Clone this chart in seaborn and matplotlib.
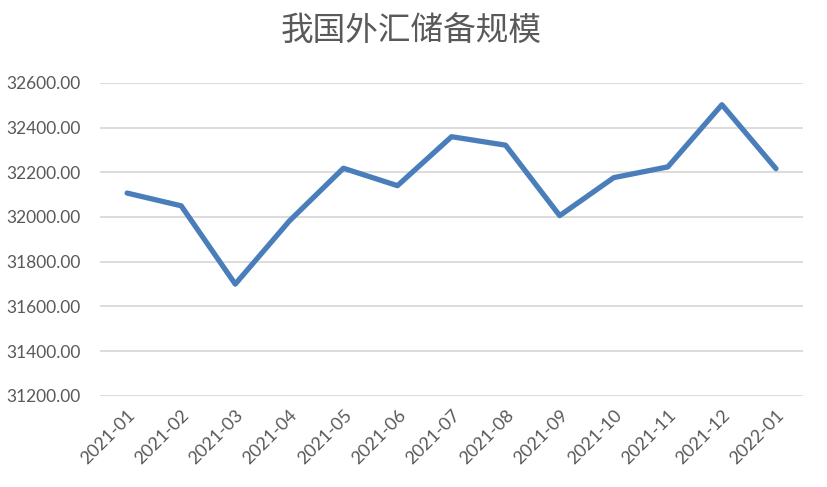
import matplotlib
matplotlib.use("Agg")
import matplotlib.pyplot as plt
import seaborn as sns
import pandas as pd

months = ["2021-01", "2021-02", "2021-03", "2021-04", "2021-05", "2021-06", "2021-07",
          "2021-08", "2021-09", "2021-10", "2021-11", "2021-12", "2022-01"]
reserves = [32107, 32050, 31700, 31982, 32218, 32140, 32359,
            32321, 32006, 32176, 32224, 32502, 32216]
yticks = [31200, 31400, 31600, 31800, 32000, 32200, 32400, 32600]
title = "我国外汇储备规模"

sns.set_theme(style="white")
plt.rcParams['font.family'] = ['Lato', 'Noto Sans CJK SC', 'DejaVu Sans']

df = pd.DataFrame({"month": months, "reserves": reserves, "idx": range(len(months))})

fig = plt.figure(figsize=(8.27, 4.87), dpi=100)
ax = fig.add_axes([0.121, 0.187, 0.850, 0.643])
sns.lineplot(data=df, x="idx", y="reserves", ax=ax, color="#4A7EBB", linewidth=3.8)

ax.set_xlim(-0.5, len(months) - 0.5)
ax.set_ylim(31200, 32600)
ax.set_yticks(yticks)
ax.set_yticklabels([f"{v:.2f}" for v in yticks])
ax.yaxis.grid(True, color="#D9D9D9", linewidth=1.3)
ax.set_axisbelow(True)
ax.set_xticks(range(len(months)))
ax.set_xticklabels(months, rotation=45, ha="right", rotation_mode="anchor")
for s in ax.spines.values():
    s.set_visible(False)
ax.tick_params(axis="y", labelsize=12.5, colors="#595959", length=0, pad=14)
ax.tick_params(axis="x", labelsize=13, colors="#595959", length=0, pad=8)
ax.set_xlabel("")
ax.set_ylabel("")
fig.text(0.497, 0.935, title, ha="center", va="center", fontsize=23.5, color="#595959",
         family=['Noto Sans CJK SC', 'DejaVu Sans'])
fig.savefig("out.png", dpi=100)
